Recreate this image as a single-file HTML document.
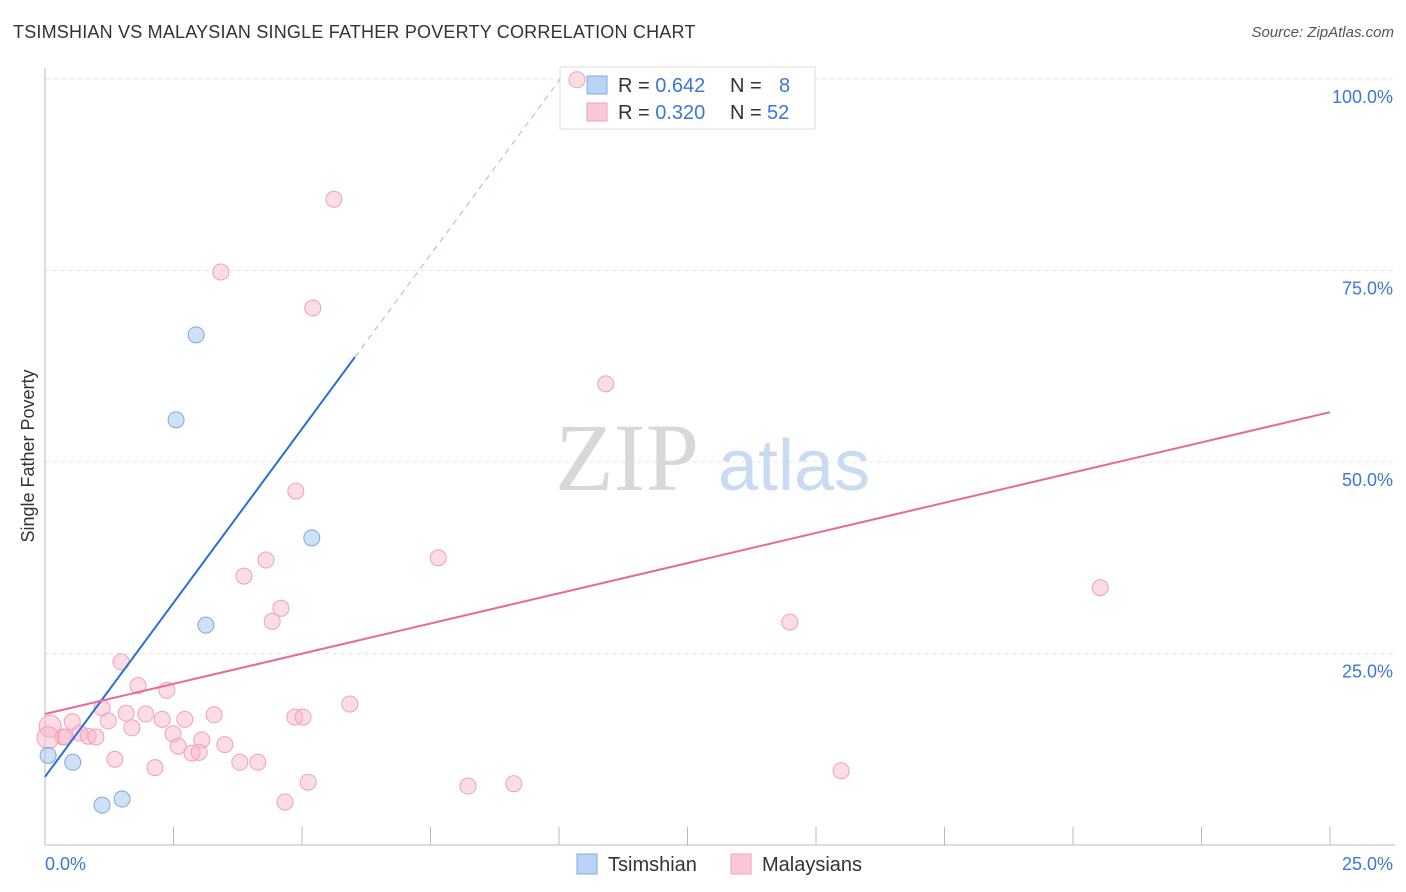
<!DOCTYPE html>
<html><head><meta charset="utf-8"><style>
body{margin:0;background:#fff;font-family:"Liberation Sans",sans-serif;}
#wrap{position:relative;width:1406px;height:892px;overflow:hidden;}
.t{position:absolute;white-space:nowrap;}
</style></head><body>
<div id="wrap">
<div class="t" style="left:13px;top:22px;font-size:18px;color:#333;letter-spacing:0.2px">TSIMSHIAN VS MALAYSIAN SINGLE FATHER POVERTY CORRELATION CHART</div>
<div class="t" style="right:12px;top:24px;font-size:15px;color:#555;font-style:italic">Source: ZipAtlas.com</div>
<svg id="svg" width="1406" height="892" style="position:absolute;left:0;top:0"></svg>
</div>
<script>
const xTicks=[0,2.5,5,7.5,10,12.5,15,17.5,20,22.5,25];
const yTicks=[25,50,75,100];
const yTickLabels=["25.0%","50.0%","75.0%","100.0%"];
const xEndLabels=["0.0%","25.0%"];
const tsimX=[0.06,0.54,1.11,1.50,2.94,2.55,3.13,5.19];
const tsimY=[11.7,10.8,5.2,6.0,66.6,55.5,28.7,40.1];
const malX=[10.35,5.62,3.42,5.21,10.91,4.88,7.65,4.30,3.87,4.59,4.42,14.49,20.53,1.48,1.81,2.37,5.93,1.11,1.58,1.96,3.29,4.86,5.02,2.72,2.28,1.23,0.53,1.69,0.10,0.35,0.68,0.84,0.99,0.39,2.49,3.05,2.59,3.50,2.86,3.00,1.36,3.79,4.14,2.14,5.12,4.67,8.23,9.12,15.49,0.06];
const malY=[99.9,84.3,74.8,70.1,60.2,46.2,37.5,37.2,35.1,30.9,29.2,29.1,33.6,23.9,20.8,20.2,18.4,17.9,17.2,17.1,17.0,16.7,16.7,16.4,16.4,16.2,16.1,15.3,15.5,14.1,14.6,14.2,14.1,14.1,14.5,13.7,12.9,13.1,12.0,12.1,11.2,10.8,10.8,10.1,8.2,5.6,7.7,8.0,9.7,14.0];
const tsimLine=[8.9,63.7];
const tsimLineEndX=6.03;
const malLine=[17.1,56.5];
const legendR=["0.642","0.320"];
const legendN=["8","52"];

const svg=document.getElementById('svg');
const NS='http://www.w3.org/2000/svg';
const X=v=>45+v/25*1285;
const Y=v=>845-v/100*766;
function mk(tag,attrs,parent){const e=document.createElementNS(NS,tag);for(const k in attrs)e.setAttribute(k,attrs[k]);(parent||svg).appendChild(e);return e;}

yTicks.forEach((t,i)=>{
  const g=mk('line',{x1:45,x2:1395,y1:Y(t),y2:Y(t),stroke:'#e4e4e4','stroke-dasharray':'4,4'});
  
  
  const lb=mk('text',{x:1393,y:Y(t)+24,'text-anchor':'end','font-size':18,fill:'#3a78d4','font-family':'Liberation Sans'});
  lb.textContent=yTickLabels[i];
  
  
});
const ax=mk('line',{x1:45,x2:1395,y1:845,y2:845,stroke:'#bbb'});


const ay=mk('line',{x1:45,x2:45,y1:68,y2:845,stroke:'#bbb'});


xTicks.forEach(t=>{
  const tk=mk('line',{x1:X(t),x2:X(t),y1:827,y2:845,stroke:'#bbb'});
  
  
});
[[0,'start',45],[25,'end',1393]].forEach((p,i)=>{
  const lb=mk('text',{x:p[2],y:870,'text-anchor':p[1],'font-size':18,fill:'#3a78d4','font-family':'Liberation Sans'});
  lb.textContent=xEndLabels[i];
  
  
});
const yt=mk('text',{x:0,y:0,transform:'translate(34,456) rotate(-90)','text-anchor':'middle','font-size':18,fill:'#333','font-family':'Liberation Sans'});
yt.textContent='Single Father Poverty';



const wm=mk('text',{x:555,y:490,'font-size':96,fill:'#d8d8d8','font-family':'Liberation Serif'});
wm.textContent='ZIP';


const wm2=mk('text',{x:718,y:490,'font-size':72,fill:'#c9dbf3','font-family':'Liberation Sans'});
wm2.textContent='atlas';



// legend box (drawn before points so points show on top)
const lg=mk('rect',{x:560,y:67,width:255,height:62,fill:'#fff',stroke:'#ddd'});


[['#b9d3f5','#7fa8e0'],['#fbc8d7','#f0a0b8']].forEach((c,i)=>{
  const y0=76+i*27;
  const s=mk('rect',{x:587,y:y0,width:20,height:18,fill:c[0],stroke:c[1]});
  
  
  const t=mk('text',{x:618,y:y0+16,'font-size':20,fill:'#333','font-family':'Liberation Sans'});
  t.innerHTML='R = <tspan fill="#3a78d4">'+legendR[i]+'</tspan>';
  
  
  const n=mk('text',{x:730,y:y0+16,'font-size':20,fill:'#333','font-family':'Liberation Sans'});
  n.innerHTML='N = <tspan fill="#3a78d4" x="'+(legendN[i].length===1?779:767)+'">'+legendN[i]+'</tspan>';
  
  
});

malX.forEach((v,i)=>{
  const big=(i===28||i===49);
  const c=mk('circle',{cx:X(v),cy:Y(malY[i]),r:big?11:8,fill:'rgba(248,180,200,0.45)',stroke:'#f0a0b8','stroke-width':1});
  
  
});
tsimX.forEach((v,i)=>{
  const c=mk('circle',{cx:X(v),cy:Y(tsimY[i]),r:8,fill:'rgba(160,195,240,0.5)',stroke:'#7fa8e0','stroke-width':1});
  
  
});
const slope=(tsimLine[1]-tsimLine[0])/tsimLineEndX;
const xAt100=(100-tsimLine[0])/slope;
const l1=mk('line',{x1:X(0),y1:Y(tsimLine[0]),x2:X(tsimLineEndX),y2:Y(tsimLine[1]),stroke:'#2a6fd6','stroke-width':2});


const l1d=mk('line',{x1:X(tsimLineEndX),y1:Y(tsimLine[1]),x2:X(xAt100),y2:Y(100),stroke:'#9bbbe8','stroke-width':1,'stroke-dasharray':'6,5'});


const l2=mk('line',{x1:X(0),y1:Y(malLine[0]),x2:X(25),y2:Y(malLine[1]),stroke:'#e8689a','stroke-width':2});



[['Tsimshian',577,'#b9d3f5','#7fa8e0'],['Malaysians',731,'#fbc8d7','#f0a0b8']].forEach(d=>{
  const s=mk('rect',{x:d[1],y:854,width:20,height:20,fill:d[2],stroke:d[3]});
  
  
  const t=mk('text',{x:d[1]+31,y:871,'font-size':20,fill:'#333','font-family':'Liberation Sans'});
  t.textContent=d[0];
  
  
});
</script>
</body></html>
